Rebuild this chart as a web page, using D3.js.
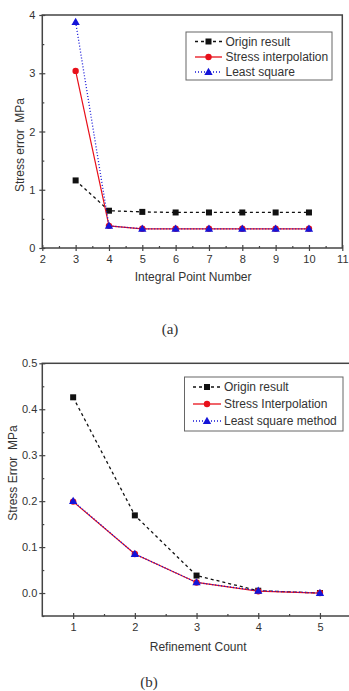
<!DOCTYPE html>
<html>
<head>
<meta charset="utf-8">
<script src="https://cdn.jsdelivr.net/npm/d3@7/dist/d3.min.js"></script>
<style>
  html, body { margin: 0; padding: 0; background: #fff; }
  svg { display: block; }
  text { font-family: "Liberation Sans", Arial, sans-serif; fill: #333; }
</style>
</head>
<body>
<svg id="chart" width="349" height="691"></svg>
<script>
// panel (a)
const pointNumbers = [3, 4, 5, 6, 7, 8, 9, 10];
const originA = [1.16, 0.64, 0.62, 0.61, 0.61, 0.61, 0.61, 0.61];
const stressA = [3.04, 0.38, 0.33, 0.33, 0.33, 0.33, 0.33, 0.33];
const leastA  = [3.88, 0.38, 0.33, 0.33, 0.33, 0.33, 0.33, 0.33];
const xTicksA = [2, 3, 4, 5, 6, 7, 8, 9, 10, 11];
const yTicksA = [0, 1, 2, 3, 4];
const legendA = ["Origin result", "Stress interpolation", "Least square"];

// panel (b)
const refineCounts = [1, 2, 3, 4, 5];
const originB = [0.426, 0.169, 0.038, 0.005, 0.0];
const stressB = [0.199, 0.085, 0.023, 0.004, 0.0];
const leastB  = [0.200, 0.085, 0.023, 0.005, 0.0];
const xTicksB = [1, 2, 3, 4, 5];
const yTicksB = [0.0, 0.1, 0.2, 0.3, 0.4, 0.5];
const legendB = ["Origin result", "Stress Interpolation", "Least square method"];

const svg = d3.select("#chart");

function drawPanel(p) {
  let x = d3.scaleLinear().domain(p.xDomain).range([p.left, p.right]);
  let y = d3.scaleLinear().domain(p.yDomain).range([p.bottom, p.top]);
  let g = svg.append("g");

  // frame
  g.append("rect")
    .attr("x", p.left).attr("y", p.top)
    .attr("width", p.right - p.left).attr("height", p.bottom - p.top)
    .attr("fill", "none").attr("stroke", "#444").attr("stroke-width", 1.5);

  // major ticks (outward with labels, then inward), minor ticks inward
  g.append("g").attr("transform", "translate(0," + p.bottom + ")")
    .call(d3.axisBottom(x).tickValues(p.xTicks).tickSize(3).tickPadding(4).tickFormat(d3.format("d")));
  g.append("g").attr("transform", "translate(0," + p.bottom + ")")
    .call(d3.axisBottom(x).tickValues(p.xTicks).tickSize(-3).tickFormat(""));
  g.append("g").attr("transform", "translate(0," + p.bottom + ")")
    .call(d3.axisBottom(x).tickValues(p.xTicks.map(d => d + 0.5)).tickSize(-2).tickFormat(""));

  g.append("g").attr("transform", "translate(" + p.left + ",0)")
    .call(d3.axisLeft(y).tickValues(p.yTicks).tickSize(3).tickPadding(p.yPad).tickFormat(d3.format(p.yFormat)));
  g.append("g").attr("transform", "translate(" + p.left + ",0)")
    .call(d3.axisLeft(y).tickValues(p.yTicks).tickSize(-3).tickFormat(""));
  g.append("g").attr("transform", "translate(" + p.left + ",0)")
    .call(d3.axisLeft(y).tickValues(p.yMinor).tickSize(-2).tickFormat(""));

  g.selectAll(".domain").remove();
  g.selectAll(".tick line").attr("stroke", "#444").attr("stroke-width", 1.2);
  g.selectAll(".tick text").style("font-size", "11px").attr("fill", "#444");

  // axis titles
  g.append("text")
    .attr("x", (p.left + Math.min(p.right, 342)) / 2 + p.xTitleShift).attr("y", p.xTitleY)
    .attr("text-anchor", "middle").style("font-size", "12px")
    .text(p.xTitle);
  g.append("text")
    .attr("transform", "translate(" + p.yTitleX + "," + p.yTitleY + ") rotate(-90)")
    .attr("text-anchor", "middle").style("font-size", "12px")
    .style("white-space", "pre")
    .text(p.yTitle);

  let series = [
    { values: p.origin, color: "#111", dash: "3,3", mark: "square" },
    { values: p.stress, color: "#e8101a", dash: null, mark: "circle" },
    { values: p.least, color: "#1414d8", dash: "1,2", mark: "triangle" }
  ];

  let line = d3.line()
    .x(d => x(d[0]))
    .y(d => y(d[1]));

  series.forEach(s => {
    let pts = p.xs.map((xv, i) => [xv, s.values[i]]);
    g.append("path")
      .datum(pts)
      .attr("fill", "none")
      .attr("stroke", s.color)
      .attr("stroke-width", s.mark === "circle" ? 1.2 : 1.3)
      .attr("stroke-dasharray", s.dash)
      .attr("d", line);
    drawMarks(g, pts.map(d => [x(d[0]), y(d[1])]), s);
  });

  // legend
  let L = p.legend;
  g.append("rect")
    .attr("x", L.x).attr("y", L.y).attr("width", L.w).attr("height", L.h)
    .attr("fill", "#fff").attr("stroke", "#666").attr("stroke-width", 1);
  series.forEach((s, i) => {
    let ry = L.rows[i];
    g.append("line")
      .attr("x1", L.lx1).attr("x2", L.lx2).attr("y1", ry).attr("y2", ry)
      .attr("stroke", s.color).attr("stroke-width", 1.3)
      .attr("stroke-dasharray", s.dash);
    drawMarks(g, [[(L.lx1 + L.lx2) / 2, ry]], s);
    g.append("text")
      .attr("x", L.tx).attr("y", ry + 4)
      .style("font-size", "12px")
      .text(p.labels[i]);
  });

  // caption
  svg.append("text")
    .attr("x", p.capX).attr("y", p.capY)
    .attr("text-anchor", "middle")
    .style("font-family", "'Liberation Serif', 'Times New Roman', serif")
    .style("font-size", "15px").attr("fill", "#111")
    .text(p.caption);
}

function drawMarks(g, pts, s) {
  if (s.mark === "square") {
    g.selectAll(null).data(pts).enter().append("rect")
      .attr("x", d => d[0] - 3).attr("y", d => d[1] - 3)
      .attr("width", 6).attr("height", 6).attr("fill", s.color);
  } else if (s.mark === "circle") {
    g.selectAll(null).data(pts).enter().append("circle")
      .attr("cx", d => d[0]).attr("cy", d => d[1]).attr("r", 3.2)
      .attr("fill", s.color);
  } else {
    let tri = d3.symbol().type(d3.symbolTriangle).size(30);
    g.selectAll(null).data(pts).enter().append("path")
      .attr("d", tri)
      .attr("transform", d => "translate(" + d[0] + "," + (d[1] + 0.5) + ")")
      .attr("fill", s.color);
  }
}

drawPanel({
  xs: pointNumbers, origin: originA, stress: stressA, least: leastA,
  xDomain: [2, 11], yDomain: [0, 4],
  left: 42.3, right: 342.3, top: 15, bottom: 248,
  xTicks: xTicksA, yTicks: yTicksA, yMinor: [0.5, 1.5, 2.5, 3.5],
  yFormat: "d", yPad: 4,
  xTitle: "Integral Point Number", xTitleY: 281, xTitleShift: 1,
  yTitle: "Stress error  MPa", yTitleX: 24, yTitleY: 145,
  labels: legendA,
  legend: { x: 186, y: 32, w: 146, h: 48, rows: [41.5, 57, 72], lx1: 195, lx2: 222, tx: 225.5 },
  caption: "(a)", capX: 170, capY: 334
});

drawPanel({
  xs: refineCounts, origin: originB, stress: stressB, least: leastB,
  xDomain: [0.5, 5.5], yDomain: [-0.05, 0.5],
  left: 42.3, right: 350.8, top: 363.3, bottom: 616,
  xTicks: xTicksB, yTicks: yTicksB, yMinor: [-0.05, 0.05, 0.15, 0.25, 0.35, 0.45],
  yFormat: ".1f", yPad: 2,
  xTitle: "Refinement Count", xTitleY: 651, xTitleShift: 6,
  yTitle: "Stress Error  MPa", yTitleX: 17, yTitleY: 473,
  labels: legendB,
  legend: { x: 184.5, y: 377, w: 158.5, h: 54, rows: [387, 404, 421], lx1: 193, lx2: 221, tx: 224 },
  caption: "(b)", capX: 149, capY: 687
});
</script>
</body>
</html>
